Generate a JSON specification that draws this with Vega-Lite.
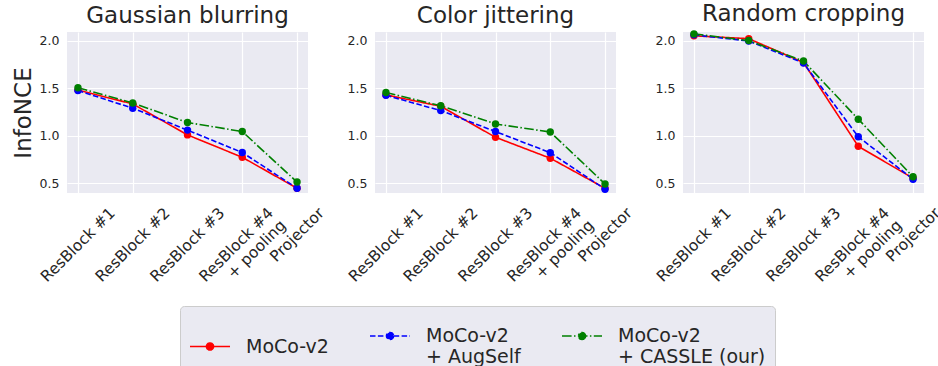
{
  "$schema": "https://vega.github.io/schema/vega-lite/v6.json",
  "background": "white",
  "padding": {"left": 12, "top": 3, "right": 0, "bottom": 0},
  "autosize": {"type": "pad"},
  "bounds": "flush",
  "spacing": 67,
  "datasets": {
    "d": [
      {"panel": "Gaussian blurring", "layer": "ResBlock #1", "method": "MoCo-v2", "value": 1.48},
      {"panel": "Gaussian blurring", "layer": "ResBlock #2", "method": "MoCo-v2", "value": 1.335},
      {"panel": "Gaussian blurring", "layer": "ResBlock #3", "method": "MoCo-v2", "value": 1.01},
      {"panel": "Gaussian blurring", "layer": "ResBlock #4\n+ pooling", "method": "MoCo-v2", "value": 0.775},
      {"panel": "Gaussian blurring", "layer": "Projector", "method": "MoCo-v2", "value": 0.45},
      {"panel": "Gaussian blurring", "layer": "ResBlock #1", "method": "MoCo-v2\n+ AugSelf", "value": 1.475},
      {"panel": "Gaussian blurring", "layer": "ResBlock #2", "method": "MoCo-v2\n+ AugSelf", "value": 1.29},
      {"panel": "Gaussian blurring", "layer": "ResBlock #3", "method": "MoCo-v2\n+ AugSelf", "value": 1.06},
      {"panel": "Gaussian blurring", "layer": "ResBlock #4\n+ pooling", "method": "MoCo-v2\n+ AugSelf", "value": 0.825},
      {"panel": "Gaussian blurring", "layer": "Projector", "method": "MoCo-v2\n+ AugSelf", "value": 0.45},
      {"panel": "Gaussian blurring", "layer": "ResBlock #1", "method": "MoCo-v2\n+ CASSLE (our)", "value": 1.505},
      {"panel": "Gaussian blurring", "layer": "ResBlock #2", "method": "MoCo-v2\n+ CASSLE (our)", "value": 1.345},
      {"panel": "Gaussian blurring", "layer": "ResBlock #3", "method": "MoCo-v2\n+ CASSLE (our)", "value": 1.14},
      {"panel": "Gaussian blurring", "layer": "ResBlock #4\n+ pooling", "method": "MoCo-v2\n+ CASSLE (our)", "value": 1.045},
      {"panel": "Gaussian blurring", "layer": "Projector", "method": "MoCo-v2\n+ CASSLE (our)", "value": 0.515},

      {"panel": "Color jittering", "layer": "ResBlock #1", "method": "MoCo-v2", "value": 1.43},
      {"panel": "Color jittering", "layer": "ResBlock #2", "method": "MoCo-v2", "value": 1.31},
      {"panel": "Color jittering", "layer": "ResBlock #3", "method": "MoCo-v2", "value": 0.985},
      {"panel": "Color jittering", "layer": "ResBlock #4\n+ pooling", "method": "MoCo-v2", "value": 0.765},
      {"panel": "Color jittering", "layer": "Projector", "method": "MoCo-v2", "value": 0.45},
      {"panel": "Color jittering", "layer": "ResBlock #1", "method": "MoCo-v2\n+ AugSelf", "value": 1.425},
      {"panel": "Color jittering", "layer": "ResBlock #2", "method": "MoCo-v2\n+ AugSelf", "value": 1.265},
      {"panel": "Color jittering", "layer": "ResBlock #3", "method": "MoCo-v2\n+ AugSelf", "value": 1.045},
      {"panel": "Color jittering", "layer": "ResBlock #4\n+ pooling", "method": "MoCo-v2\n+ AugSelf", "value": 0.823},
      {"panel": "Color jittering", "layer": "Projector", "method": "MoCo-v2\n+ AugSelf", "value": 0.44},
      {"panel": "Color jittering", "layer": "ResBlock #1", "method": "MoCo-v2\n+ CASSLE (our)", "value": 1.455},
      {"panel": "Color jittering", "layer": "ResBlock #2", "method": "MoCo-v2\n+ CASSLE (our)", "value": 1.315},
      {"panel": "Color jittering", "layer": "ResBlock #3", "method": "MoCo-v2\n+ CASSLE (our)", "value": 1.125},
      {"panel": "Color jittering", "layer": "ResBlock #4\n+ pooling", "method": "MoCo-v2\n+ CASSLE (our)", "value": 1.04},
      {"panel": "Color jittering", "layer": "Projector", "method": "MoCo-v2\n+ CASSLE (our)", "value": 0.495},

      {"panel": "Random cropping", "layer": "ResBlock #1", "method": "MoCo-v2", "value": 2.05},
      {"panel": "Random cropping", "layer": "ResBlock #2", "method": "MoCo-v2", "value": 2.02},
      {"panel": "Random cropping", "layer": "ResBlock #3", "method": "MoCo-v2", "value": 1.77},
      {"panel": "Random cropping", "layer": "ResBlock #4\n+ pooling", "method": "MoCo-v2", "value": 0.89},
      {"panel": "Random cropping", "layer": "Projector", "method": "MoCo-v2", "value": 0.555},
      {"panel": "Random cropping", "layer": "ResBlock #1", "method": "MoCo-v2\n+ AugSelf", "value": 2.06},
      {"panel": "Random cropping", "layer": "ResBlock #2", "method": "MoCo-v2\n+ AugSelf", "value": 1.995},
      {"panel": "Random cropping", "layer": "ResBlock #3", "method": "MoCo-v2\n+ AugSelf", "value": 1.765},
      {"panel": "Random cropping", "layer": "ResBlock #4\n+ pooling", "method": "MoCo-v2\n+ AugSelf", "value": 0.99},
      {"panel": "Random cropping", "layer": "Projector", "method": "MoCo-v2\n+ AugSelf", "value": 0.545},
      {"panel": "Random cropping", "layer": "ResBlock #1", "method": "MoCo-v2\n+ CASSLE (our)", "value": 2.07},
      {"panel": "Random cropping", "layer": "ResBlock #2", "method": "MoCo-v2\n+ CASSLE (our)", "value": 2.0},
      {"panel": "Random cropping", "layer": "ResBlock #3", "method": "MoCo-v2\n+ CASSLE (our)", "value": 1.785},
      {"panel": "Random cropping", "layer": "ResBlock #4\n+ pooling", "method": "MoCo-v2\n+ CASSLE (our)", "value": 1.175},
      {"panel": "Random cropping", "layer": "Projector", "method": "MoCo-v2\n+ CASSLE (our)", "value": 0.57}
    ]
  },
  "hconcat": [
    {
      "width": 241, "height": 161,
      "title": "Gaussian blurring",
      "data": {"name": "d"},
      "transform": [{"filter": "datum.panel === 'Gaussian blurring'"}],
      "mark": {"type": "line", "strokeWidth": 1.6, "point": {"filled": true, "size": 55, "opacity": 1}},
      "encoding": {
        "x": {"field": "layer", "type": "nominal", "sort": ["ResBlock #1", "ResBlock #2", "ResBlock #3", "ResBlock #4\n+ pooling", "Projector"], "scale": {"type": "point", "padding": 0.2},
          "axis": {"title": null, "grid": true, "labelAngle": -45, "labelAlign": "right", "labelBaseline": "top", "labelFontSize": 15.5, "labelPadding": 12, "labelExpr": "split(datum.label, '\\n')",
            "labelOffset": {"condition": [{"test": "datum.value === 'Projector'", "value": 19}, {"test": "indexof(datum.value, 'pooling') >= 0", "value": 23}], "value": 29}}},
        "y": {"field": "value", "type": "quantitative", "scale": {"domain": [0.4, 2.09], "zero": false, "nice": false},
          "axis": {"title": "InfoNCE", "values": [0.5, 1, 1.5, 2], "format": ".1f", "labelFontSize": 12.5, "labelPadding": 8, "titleFontSize": 23, "titleFontWeight": "normal", "titlePadding": 4}},
        "color": {"field": "method", "type": "nominal", "scale": {"domain": ["MoCo-v2", "MoCo-v2\n+ AugSelf", "MoCo-v2\n+ CASSLE (our)"], "range": ["#FF0000", "#0000FF", "#008000"]},
          "legend": {"labelExpr": "split(datum.label, '\\n')"}},
        "strokeDash": {"field": "method", "type": "nominal", "scale": {"domain": ["MoCo-v2", "MoCo-v2\n+ AugSelf", "MoCo-v2\n+ CASSLE (our)"], "range": [[1, 0], [5.5, 2.4], [9.6, 2.4, 1.5, 2.4]]},
          "legend": {"labelExpr": "split(datum.label, '\\n')"}}
      }
    },
    {
      "width": 241, "height": 161,
      "title": "Color jittering",
      "data": {"name": "d"},
      "transform": [{"filter": "datum.panel === 'Color jittering'"}],
      "mark": {"type": "line", "strokeWidth": 1.6, "point": {"filled": true, "size": 55, "opacity": 1}},
      "encoding": {
        "x": {"field": "layer", "type": "nominal", "sort": ["ResBlock #1", "ResBlock #2", "ResBlock #3", "ResBlock #4\n+ pooling", "Projector"], "scale": {"type": "point", "padding": 0.2},
          "axis": {"title": null, "grid": true, "labelAngle": -45, "labelAlign": "right", "labelBaseline": "top", "labelFontSize": 15.5, "labelPadding": 12, "labelExpr": "split(datum.label, '\\n')",
            "labelOffset": {"condition": [{"test": "datum.value === 'Projector'", "value": 19}, {"test": "indexof(datum.value, 'pooling') >= 0", "value": 23}], "value": 29}}},
        "y": {"field": "value", "type": "quantitative", "scale": {"domain": [0.4, 2.09], "zero": false, "nice": false},
          "axis": {"title": null, "values": [0.5, 1, 1.5, 2], "format": ".1f", "labelFontSize": 12.5, "labelPadding": 8}},
        "color": {"field": "method", "type": "nominal", "scale": {"domain": ["MoCo-v2", "MoCo-v2\n+ AugSelf", "MoCo-v2\n+ CASSLE (our)"], "range": ["#FF0000", "#0000FF", "#008000"]},
          "legend": {"labelExpr": "split(datum.label, '\\n')"}},
        "strokeDash": {"field": "method", "type": "nominal", "scale": {"domain": ["MoCo-v2", "MoCo-v2\n+ AugSelf", "MoCo-v2\n+ CASSLE (our)"], "range": [[1, 0], [5.5, 2.4], [9.6, 2.4, 1.5, 2.4]]},
          "legend": {"labelExpr": "split(datum.label, '\\n')"}}
      }
    },
    {
      "width": 241, "height": 161,
      "title": "Random cropping",
      "data": {"name": "d"},
      "transform": [{"filter": "datum.panel === 'Random cropping'"}],
      "mark": {"type": "line", "strokeWidth": 1.6, "point": {"filled": true, "size": 55, "opacity": 1}},
      "encoding": {
        "x": {"field": "layer", "type": "nominal", "sort": ["ResBlock #1", "ResBlock #2", "ResBlock #3", "ResBlock #4\n+ pooling", "Projector"], "scale": {"type": "point", "padding": 0.2},
          "axis": {"title": null, "grid": true, "labelAngle": -45, "labelAlign": "right", "labelBaseline": "top", "labelFontSize": 15.5, "labelPadding": 12, "labelExpr": "split(datum.label, '\\n')",
            "labelOffset": {"condition": [{"test": "datum.value === 'Projector'", "value": 19}, {"test": "indexof(datum.value, 'pooling') >= 0", "value": 23}], "value": 29}}},
        "y": {"field": "value", "type": "quantitative", "scale": {"domain": [0.4, 2.09], "zero": false, "nice": false},
          "axis": {"title": null, "values": [0.5, 1, 1.5, 2], "format": ".1f", "labelFontSize": 12.5, "labelPadding": 8}},
        "color": {"field": "method", "type": "nominal", "scale": {"domain": ["MoCo-v2", "MoCo-v2\n+ AugSelf", "MoCo-v2\n+ CASSLE (our)"], "range": ["#FF0000", "#0000FF", "#008000"]},
          "legend": {"labelExpr": "split(datum.label, '\\n')"}},
        "strokeDash": {"field": "method", "type": "nominal", "scale": {"domain": ["MoCo-v2", "MoCo-v2\n+ AugSelf", "MoCo-v2\n+ CASSLE (our)"], "range": [[1, 0], [5.5, 2.4], [9.6, 2.4, 1.5, 2.4]]},
          "legend": {"labelExpr": "split(datum.label, '\\n')"}}
      }
    }
  ],
  "config": {
    "font": "DejaVu Sans",
    "view": {"fill": "#EAEAF2", "stroke": null},
    "axis": {"domain": false, "ticks": false, "gridColor": "white", "gridWidth": 1.2, "labelColor": "#262626", "titleColor": "#262626", "labelFont": "DejaVu Sans", "titleFont": "DejaVu Sans"},
    "title": {"fontSize": 23, "fontWeight": "normal", "color": "#262626", "offset": 4, "font": "DejaVu Sans"},
    "legend": {
      "orient": "bottom", "direction": "horizontal", "columns": 3, "title": null,
      "labelFontSize": 19, "labelColor": "#262626", "labelFont": "DejaVu Sans", "labelLimit": 400,
      "labelBaseline": "middle",
      "symbolType": "M-1,0L1,0M0.18,0A0.18,0.18 0 1,1 -0.18,0A0.18,0.18 0 1,1 0.18,0Z",
      "symbolSize": 1600, "symbolStrokeWidth": 1.5, "labelOffset": 15, "columnPadding": 38,
      "padding": 9, "fillColor": "#EAEAF2", "strokeColor": "#cccccc", "cornerRadius": 4, "offset": 8,
      "layout": {"bottom": {"anchor": "middle"}}
    }
  }
}
